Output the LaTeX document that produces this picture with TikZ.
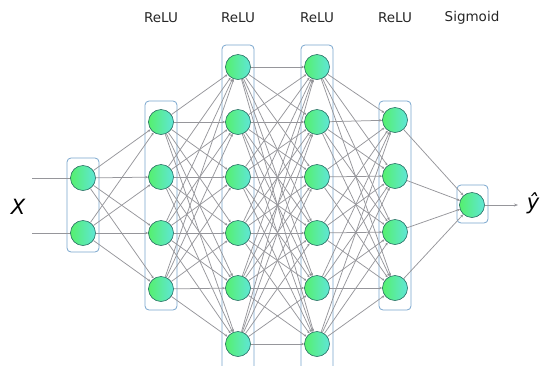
\documentclass[tikz,border=0pt]{standalone}
\usepackage{fontspec}
\setmainfont{DejaVu Sans}
\usetikzlibrary{arrows.meta}
\definecolor{nodeA}{RGB}{85,240,110}
\definecolor{nodeB}{RGB}{95,230,215}
\definecolor{nodeEdge}{RGB}{40,110,100}
\definecolor{boxEdge}{RGB}{120,165,205}
\definecolor{wire}{RGB}{150,150,155}
\tikzset{
  neuron/.style={circle, minimum size=25pt, inner sep=0pt, draw=nodeEdge, line width=0.6pt, left color=nodeA, right color=nodeB},
  layerbox/.style={draw=boxEdge, rounded corners=4pt, line width=0.8pt},
  wire/.style={draw=wire, line width=0.75pt, -{Stealth[length=3pt,width=2.5pt,fill=black!70]}},
  plainwire/.style={draw=wire, line width=1pt},
  actlabel/.style={font=\fontsize{13.5}{15}\selectfont, text=black!85},
}
\begin{document}
\begin{tikzpicture}[x=1pt,y=-1pt]
\useasboundingbox (0,0) rectangle (542,365);
% boxes
\draw[layerbox] (67,158) rectangle (99,252);
\draw[layerbox] (145,101) rectangle (177,310);
\draw[layerbox] (222,45) rectangle (254,375);
\draw[layerbox] (301,45) rectangle (333,375);
\draw[layerbox] (379,101) rectangle (411,310);
\draw[layerbox] (457,185) rectangle (488,223);
% neurons
\foreach \i/\y in {1/178,2/233} \node[neuron] (a\i) at (83,\y) {};
\foreach \i/\y in {1/122,2/177,3/233,4/289} \node[neuron] (b\i) at (161,\y) {};
\foreach \i/\y in {1/67,2/122,3/177,4/233,5/288,6/344} \node[neuron] (c\i) at (238,\y) {};
\foreach \i/\y in {1/67,2/122,3/177,4/233,5/288,6/344} \node[neuron] (d\i) at (317,\y) {};
\foreach \i/\y in {1/120,2/176,3/232,4/288} \node[neuron] (e\i) at (395,\y) {};
\node[neuron] (f1) at (472,205) {};
% connections
\foreach \i in {1,2} \foreach \j in {1,...,4} \draw[wire] (a\i) -- (b\j);
\foreach \i in {1,...,4} \foreach \j in {1,...,6} \draw[wire] (b\i) -- (c\j);
\foreach \i in {1,...,6} \foreach \j in {1,...,6} \draw[wire] (c\i) -- (d\j);
\foreach \i in {1,...,6} \foreach \j in {1,...,4} \draw[wire] (d\i) -- (e\j);
\foreach \i in {1,...,4} \draw[wire] (e\i) -- (f1);
% inputs / output
\coordinate (in1) at (32,178);
\coordinate (in2) at (32,233);
\coordinate (out) at (518,205);
\draw[plainwire] (in1) -- (a1);
\draw[plainwire] (in2) -- (a2);
\draw[plainwire, -{Stealth[length=4pt,width=3pt]}] (f1) -- (out);
\node[font=\fontsize{21}{24}\selectfont\itshape] (xlab) at (18,207) {X};
\node[font=\fontsize{21}{24}\selectfont\itshape] (ylab) at (533,203) {ŷ};
% activation labels
\node[actlabel] (l1) at (161,18) {ReLU};
\node[actlabel] (l2) at (238,18) {ReLU};
\node[actlabel] (l3) at (317,18) {ReLU};
\node[actlabel] (l4) at (395,18) {ReLU};
\node[actlabel] (l5) at (472,18) {Sigmoid};
\end{tikzpicture}
\end{document}
